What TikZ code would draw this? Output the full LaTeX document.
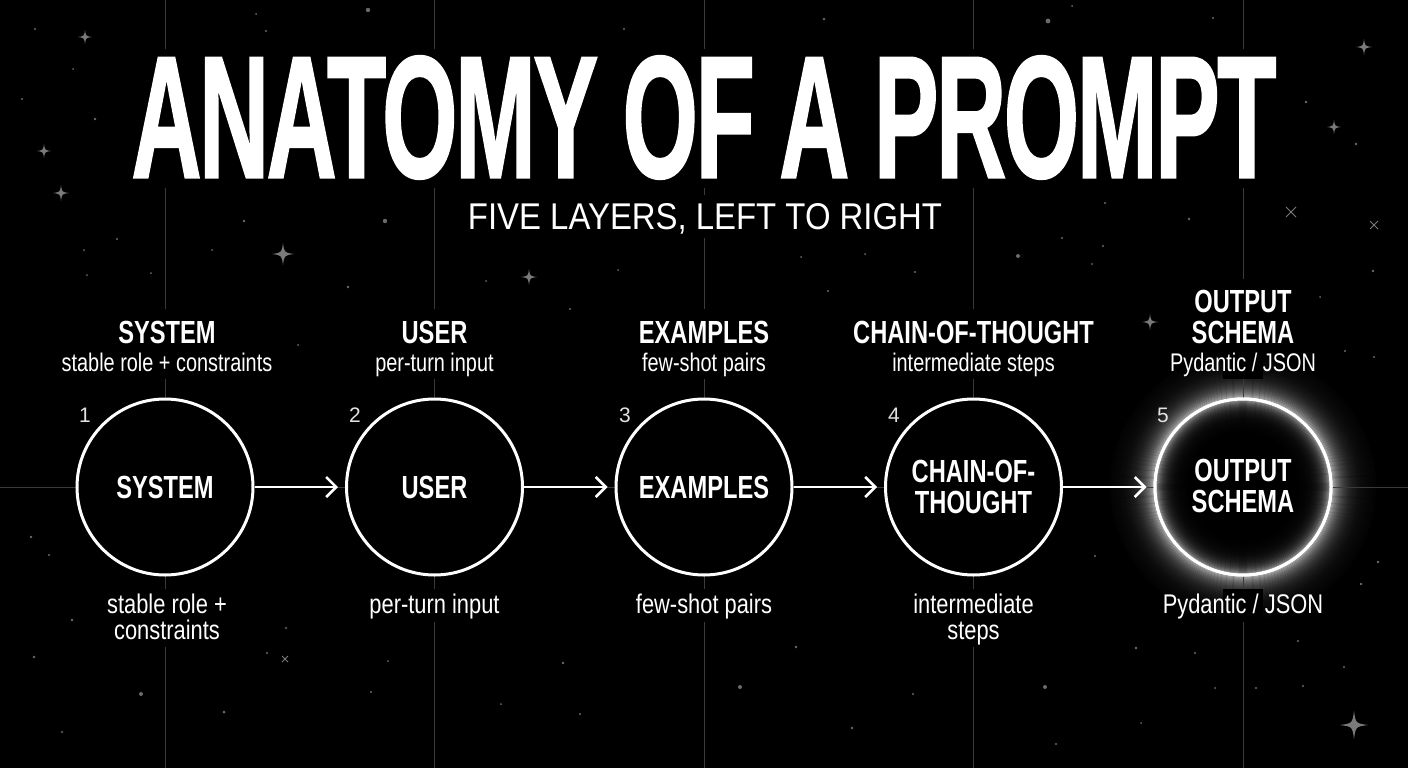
\documentclass[tikz,border=0pt]{standalone}
\usepackage{fontspec}
\setmainfont{Liberation Sans}
\newfontfamily\titlefont{Liberation Sans}[LetterSpace=-2.5, FakeBold=1.5]
\usepackage{graphicx}
\usetikzlibrary{arrows.meta}
\definecolor{gridc}{HTML}{3A3A3A}
\definecolor{starc}{HTML}{6A6A6A}
\definecolor{sparkc}{HTML}{7A7A7A}
\definecolor{numc}{HTML}{E2E2E2}
\newcommand\lblB[1]{{\fontsize{32}{32}\selectfont\bfseries\scalebox{0.74}[1]{#1}}}
\newcommand\lblS[1]{{\fontsize{25.5}{26}\selectfont\scalebox{0.78}[1]{#1}}}
\newcommand\lblT[1]{{\fontsize{27}{27}\selectfont\scalebox{0.81}[1]{#1}}}
\newcommand\sdot[3]{\fill[starc] (#1,#2) circle[radius=#3pt];}
\newcommand\sspark[3]{\fill[sparkc,shift={(#1,#2)}] ({-#3},0) .. controls ({-0.12*#3},{-0.12*#3}) .. (0,{-#3}) .. controls ({0.12*#3},{-0.12*#3}) .. ({#3},0) .. controls ({0.12*#3},{0.12*#3}) .. (0,{#3}) .. controls ({-0.12*#3},{0.12*#3}) .. cycle;}
\newcommand\sx[3]{\draw[sparkc,line width=1pt,shift={(#1,#2)}] ({-#3},{-#3}) -- ({#3},{#3}) ({-#3},{#3}) -- ({#3},{-#3});}
\newcommand\mask[4]{\fill[black] (#1,#2) rectangle (#3,#4);}
\begin{document}
\begin{tikzpicture}[x=1pt,y=-1pt,
  lab/.style={inner sep=0pt, text=white, anchor=base},
  num/.style={inner sep=0pt, text=numc, anchor=base, font=\fontsize{21}{21}\selectfont},
  stage/.style={circle, minimum size=176pt, inner sep=0pt, draw=white, line width=3pt, fill=black},
  arr/.style={white, line width=2.5pt, shorten >=7pt, -{Straight Barb[length=10pt,width=20pt]}}]
\fill[black] (0,0) rectangle (1408,768);
\useasboundingbox (0,0) rectangle (1408,768);
% stars
\sdot{35}{29}{1.2}\sdot{368}{10}{2.2}\sdot{256}{14}{1}\sdot{266}{31}{1.2}\sdot{73}{69}{1}
\sdot{22}{99}{1.2}\sdot{95}{119}{1.3}\sdot{244}{221}{1.3}\sdot{385}{221}{2.2}\sdot{117}{239}{1.2}
\sdot{84}{250}{1}\sdot{212}{250}{1}\sdot{624}{29}{1.2}\sdot{151}{273}{1}\sdot{87}{275}{1}
\sdot{348}{287}{1.3}\sdot{618}{270}{1}\sdot{486}{281}{1}\sdot{298}{345}{1}\sdot{570}{309}{1.2}
\sdot{824}{19}{1.3}\sdot{1048}{21}{2.4}\sdot{1213}{18}{1.2}\sdot{1072}{6}{1}\sdot{1306}{102}{1.3}
\sdot{1356}{144}{1.3}\sdot{1105}{203}{1.2}\sdot{1189}{219}{1.3}\sdot{1062}{238}{1.2}\sdot{1103}{246}{1.2}
\sdot{1018}{256}{2}\sdot{801}{257}{1}\sdot{865}{254}{1}\sdot{915}{272}{1.2}\sdot{828}{291}{1.2}
\sdot{1092}{264}{1}\sdot{1373}{271}{1.3}\sdot{1320}{297}{1}\sdot{1345}{351}{1.2}\sdot{1374}{357}{1.2}
\sdot{1095}{556}{1.2}\sdot{31}{537}{1.3}\sdot{49}{555}{1.2}\sdot{1378}{562}{1.3}\sdot{1361}{584}{1.3}
\sdot{72}{620}{1.3}\sdot{286}{628}{1.2}\sdot{34}{657}{1.3}\sdot{267}{653}{1.2}\sdot{141}{694}{2}
\sdot{224}{712}{1.5}\sdot{62}{732}{1.2}\sdot{371}{692}{1.2}\sdot{388}{661}{1}\sdot{563}{663}{1.3}
\sdot{501}{704}{1}\sdot{580}{714}{1.2}\sdot{740}{687}{2}\sdot{796}{647}{1.3}\sdot{913}{694}{1.2}
\sdot{852}{728}{1.3}\sdot{1045}{687}{2}\sdot{1056}{744}{1.2}\sdot{1136}{648}{1.3}\sdot{1195}{653}{1.2}
\sdot{1215}{688}{1}\sdot{1256}{688}{1.2}\sdot{1303}{686}{1.2}\sdot{1298}{641}{1.2}\sdot{1344}{667}{1.2}
\sdot{1141}{723}{1}
\sspark{85}{37}{7}\sspark{44}{151}{7}\sspark{61}{193}{8}\sspark{283}{254}{11}\sspark{529}{277}{8}
\sspark{1364}{47}{8}\sspark{1334}{127}{7}\sspark{1150}{322}{8}\sspark{1354}{725}{14}
\sx{1291}{212}{5}\sx{1374}{225}{4}\sx{285}{659}{3}
% glow of stage 5 (outside)
\coordinate (p5) at (1243,487);
\foreach \k in {1,...,44}{
  \pgfmathsetmacro{\bb}{75*exp(-\k/11)}
  \pgfmathsetmacro{\rr}{89+\k-0.5}
  \draw[line width=1.3pt, color=white!\bb!black] (p5) circle[radius=\rr pt];
}
% grid
\foreach \gx in {165,434.5,704,973.5,1243}{
  \draw[gridc, line width=1pt] (\gx,0) -- (\gx,768);
}
\draw[gridc, line width=1pt] (0,487) -- (1408,487);
% masks behind texts
\mask{120}{49}{1290}{188}
\mask{455}{195}{955}{238}
\foreach \gx in {165,434.5,704,973.5}{ \mask{\gx-20}{309}{\gx+20}{379} }
\mask{1223}{279}{1263}{379}
\mask{145}{589}{185}{647}
\mask{414.5}{589}{454.5}{622}
\mask{684}{589}{724}{622}
\mask{953.5}{589}{993.5}{647}
\mask{1223}{589}{1263}{622}
% title
\node[inner sep=0pt, text=white] (title) at (704,117.5)
  {\resizebox{1144pt}{121pt}{\titlefont\bfseries ANATOMY OF A PROMPT}};
\node[inner sep=0pt, text=white, anchor=base] (subtitle) at (705,229)
  {\resizebox{474pt}{26pt}{FIVE LAYERS, LEFT TO RIGHT}};
% stages
\node[stage] (c1) at (165,487) {};
\node[stage] (c2) at (434.5,487) {};
\node[stage] (c3) at (704,487) {};
\node[stage] (c4) at (973.5,487) {};
\node[stage] (c5) at (1243,487) {};
% inner glow of stage 5
\foreach \k in {1,...,30}{
  \pgfmathsetmacro{\bb}{62*exp(-\k/7)}
  \pgfmathsetmacro{\rr}{86.5-\k+0.5}
  \draw[line width=1.3pt, color=white!\bb!black] (c5.center) circle[radius=\rr pt];
}
\draw[white, line width=3pt] (c5.center) circle[radius=88pt];
% connectors
\draw[arr] (c1) -- (c2);
\draw[arr] (c2) -- (c3);
\draw[arr] (c3) -- (c4);
\draw[arr] (c4) -- (c5);
% inner labels
\node[lab] (i1) at (165,498.5) {\lblB{SYSTEM}};
\node[lab] (i2) at (434.5,498.5) {\lblB{USER}};
\node[lab] (i3) at (704,498.5) {\lblB{EXAMPLES}};
\node[lab] (i4a) at (973.5,482) {\lblB{CHAIN-OF-}};
\node[lab] (i4b) at (973.5,513) {\lblB{THOUGHT}};
\node[lab] (i5a) at (1243,481) {\lblB{OUTPUT}};
\node[lab] (i5b) at (1243,512) {\lblB{SCHEMA}};
% numbers
\node[num] (n1) at (85,422) {1};
\node[num] (n2) at (355,422) {2};
\node[num] (n3) at (625,422) {3};
\node[num] (n4) at (894,422) {4};
\node[num] (n5) at (1163,422) {5};
% top labels
\node[lab] (t1) at (167,343) {\lblB{SYSTEM}};
\node[lab] (s1) at (167,371) {\lblS{stable role + constraints}};
\node[lab] (t2) at (434.5,343) {\lblB{USER}};
\node[lab] (s2) at (434.5,371) {\lblS{per-turn input}};
\node[lab] (t3) at (704,343) {\lblB{EXAMPLES}};
\node[lab] (s3) at (704,371) {\lblS{few-shot pairs}};
\node[lab] (t4) at (973.5,343) {\lblB{CHAIN-OF-THOUGHT}};
\node[lab] (s4) at (973.5,371) {\lblS{intermediate steps}};
\node[lab] (t5a) at (1243,312) {\lblB{OUTPUT}};
\node[lab] (t5b) at (1243,343) {\lblB{SCHEMA}};
\node[lab] (s5) at (1243,371) {\lblS{Pydantic / JSON}};
% bottom labels
\node[lab] (b1a) at (167,613) {\lblT{stable role +}};
\node[lab] (b1b) at (167,639) {\lblT{constraints}};
\node[lab] (b2) at (434.5,613) {\lblT{per-turn input}};
\node[lab] (b3) at (704,613) {\lblT{few-shot pairs}};
\node[lab] (b4a) at (973.5,613) {\lblT{intermediate}};
\node[lab] (b4b) at (973.5,639) {\lblT{steps}};
\node[lab] (b5) at (1243,613) {\lblT{Pydantic / JSON}};
\end{tikzpicture}
\end{document}
